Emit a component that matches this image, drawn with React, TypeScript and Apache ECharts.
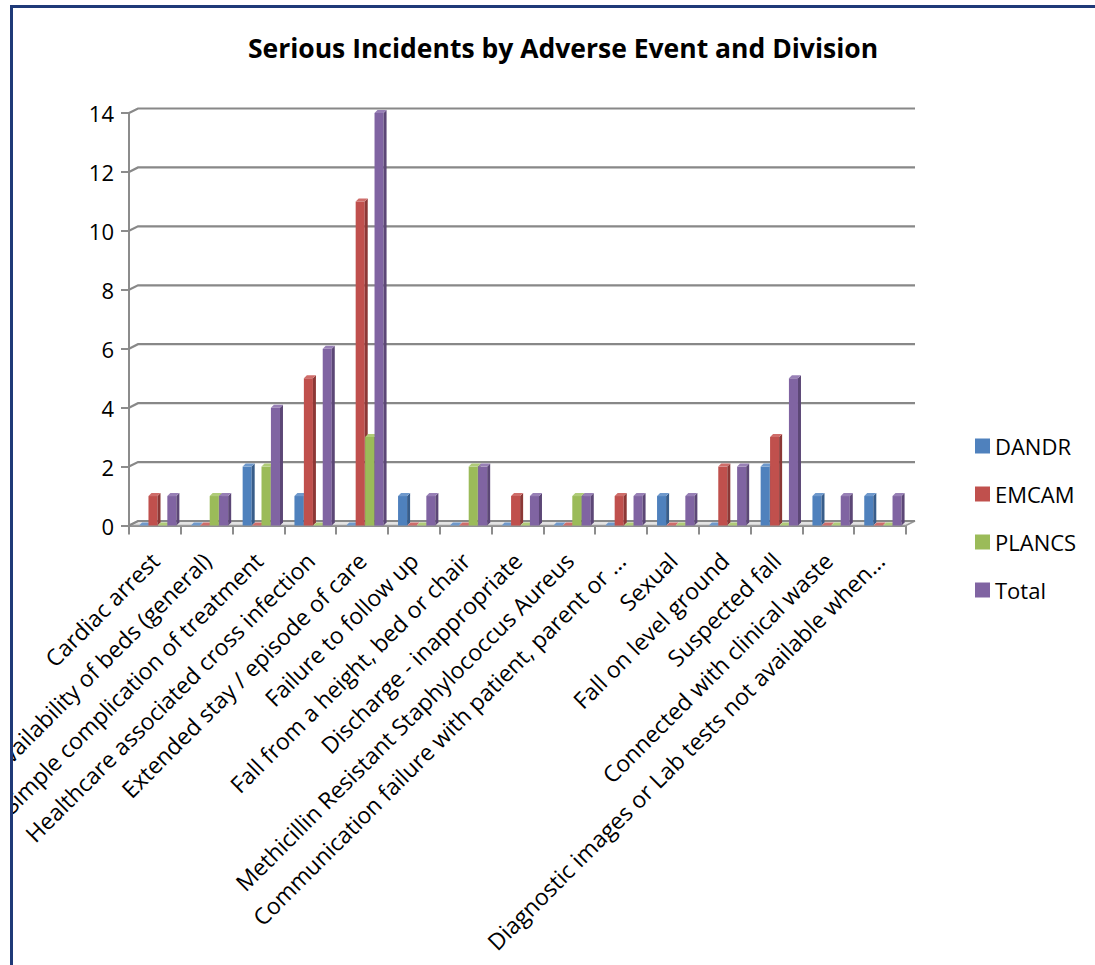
import React, { useEffect, useRef } from "react";
import * as echarts from "echarts";

// Incident categories (x axis) and counts per division
const categories = [
  "Cardiac arrest",
  "Unavailability of beds (general)",
  "Simple complication of treatment",
  "Healthcare associated cross infection",
  "Extended stay / episode of care",
  "Failure to follow up",
  "Fall from a height, bed or chair",
  "Discharge - inappropriate",
  "Methicillin Resistant Staphylococcus Aureus",
  "Communication failure with patient, parent or ...",
  "Sexual",
  "Fall on level ground",
  "Suspected fall",
  "Connected with clinical waste",
  "Diagnostic images or Lab tests not available when...",
];
const dandr = [0, 0, 2, 1, 0, 1, 0, 0, 0, 0, 1, 0, 2, 1, 1];
const emcam = [1, 0, 0, 5, 11, 0, 0, 1, 0, 1, 0, 2, 3, 0, 0];
const plancs = [0, 1, 2, 0, 3, 0, 2, 0, 1, 0, 0, 0, 0, 0, 0];
const total = [1, 1, 4, 6, 14, 1, 2, 1, 1, 1, 1, 2, 5, 1, 1];
const seriesNames = ["DANDR", "EMCAM", "PLANCS", "Total"];
const yTicks = [0, 2, 4, 6, 8, 10, 12, 14];

const seriesValues = [dandr, emcam, plancs, total];

// front / side / top face colours for each division
const faceColors = [
  { front: "#4F81BD", side: "#385D8A", top: "#6F99CC" },
  { front: "#C0504D", side: "#8C3836", top: "#CF6D6A" },
  { front: "#9BBB59", side: "#71893F", top: "#B0CC78" },
  { front: "#8064A2", side: "#5C4776", top: "#9880B6" },
];

const FONT = "Open Sans";
const BACK_DX = 9;
const BACK_DY = 4.5;
const BAR_DX = 3;
const BAR_DY = 3;

function barRenderer(si: number) {
  return (params: any, api: any) => {
    const idx = api.value(0);
    const v = api.value(1);
    const top = api.coord([idx, v]);
    const base = api.coord([idx, 0]);
    const band = api.size([1, 0])[0];
    const slot = band * 0.182;
    const fw = slot * 0.96;
    const x = top[0] - 2 * slot + 3 + si * slot;
    const yt = top[1];
    const yb = base[1];
    const c = faceColors[si];
    return {
      type: "group",
      children: [
        {
          type: "rect",
          shape: { x, y: yt, width: fw, height: Math.max(yb - yt, 0) },
          style: { fill: c.front },
        },
        {
          type: "polygon",
          shape: {
            points: [
              [x + fw, yt],
              [x + fw + BAR_DX, yt - BAR_DY],
              [x + fw + BAR_DX, yb - BAR_DY],
              [x + fw, yb],
            ],
          },
          style: { fill: c.side },
        },
        {
          type: "polygon",
          shape: {
            points: [
              [x, yt],
              [x + fw, yt],
              [x + fw + BAR_DX, yt - BAR_DY],
              [x + BAR_DX, yt - BAR_DY],
            ],
          },
          style: { fill: c.top },
        },
      ],
    };
  };
}

// back-wall gridlines and the floor of the plot
function frameRenderer(params: any, api: any) {
  const v = api.value(1);
  const cs = params.coordSys;
  const y = api.coord([0, v])[1];
  const x0 = cs.x;
  const x1 = cs.x + cs.width;
  const children: any[] = [];
  if (v === 0) {
    children.push({
      type: "polygon",
      shape: {
        points: [
          [x0, y],
          [x1, y],
          [x1 + BACK_DX, y - BACK_DY],
          [x0 + BACK_DX, y - BACK_DY],
        ],
      },
      style: { fill: "#E4E4E4", stroke: "#9A9A9A", lineWidth: 1.5 },
    });
  }
  children.push({
    type: "polyline",
    shape: {
      points: [
        [x0, y],
        [x0 + BACK_DX, y - BACK_DY],
        [x1 + BACK_DX, y - BACK_DY],
      ],
    },
    style: { stroke: "#888888", lineWidth: 2.2, fill: null },
  });
  return { type: "group", children };
}

export default function App() {
  const ref = useRef<HTMLDivElement>(null);

  useEffect(() => {
    if (!ref.current) return;
    const chart = echarts.init(ref.current, null, { renderer: "svg" });

    const option: any = {
      animation: false,
      backgroundColor: "#FFFFFF",
      textStyle: { fontFamily: FONT },
      color: faceColors.map((c) => c.front),
      title: {
        text: "Serious Incidents by Adverse Event and Division",
        left: 558,
        textAlign: "center",
        top: 29,
        textStyle: { fontFamily: FONT, fontSize: 26.5, fontWeight: "bold", color: "#000" },
      },
      legend: {
        data: seriesNames,
        orient: "vertical",
        left: 970,
        top: 430,
        itemWidth: 15,
        itemHeight: 15,
        itemGap: 26,
        icon: "rect",
        textStyle: { fontFamily: FONT, fontSize: 22, color: "#000" },
      },
      grid: {
        left: 129,
        right: 189,
        top: 113,
        bottom: 439.5,
        outerBoundsMode: "none",
        containLabel: false,
      },
      xAxis: {
        type: "category",
        data: categories,
        axisLine: { show: true, lineStyle: { color: "#8C8C8C", width: 2 } },
        axisTick: { show: true, interval: 0, length: 9, lineStyle: { color: "#8C8C8C", width: 2 } },
        axisLabel: {
          show: true,
          interval: 0,
          rotate: 45,
          margin: 31,
          fontSize: 23,
          fontFamily: FONT,
          color: "#000",
        },
        splitLine: { show: false },
      },
      yAxis: {
        type: "value",
        min: 0,
        max: 14,
        interval: 2,
        axisLine: { show: true, lineStyle: { color: "#8C8C8C", width: 2 } },
        axisTick: { show: true, length: 8, lineStyle: { color: "#8C8C8C", width: 2 } },
        axisLabel: { fontSize: 22, margin: 15, color: "#000", fontFamily: FONT },
        splitLine: { show: false },
      },
      series: [
        {
          type: "custom",
          name: "frame",
          z: 1,
          silent: true,
          renderItem: frameRenderer,
          encode: { x: 0, y: 1 },
          data: yTicks.map((v) => [0, v]),
        },
        ...seriesNames.map((name, si) => ({
          type: "custom",
          name,
          z: 3,
          itemStyle: { color: faceColors[si].front },
          renderItem: barRenderer(si),
          encode: { x: 0, y: 1 },
          data: seriesValues[si].map((v, i) => [i, v]),
        })),
      ],
      graphic: [
        {
          type: "rect",
          z: 100,
          silent: true,
          shape: { x: 0, y: 0, width: 10, height: 965 },
          style: { fill: "#FFFFFF" },
        },
        {
          type: "rect",
          z: 101,
          silent: true,
          shape: { x: 11.5, y: 6.5, width: 1200, height: 1200 },
          style: { fill: null, stroke: "#1F3A78", lineWidth: 3 },
        },
      ],
    };

    chart.setOption(option);
    return () => chart.dispose();
  }, []);

  return (
    <div
      ref={ref}
      style={{ position: "fixed", left: 0, top: 0, width: 1095, height: 965, background: "#FFFFFF" }}
    />
  );
}
